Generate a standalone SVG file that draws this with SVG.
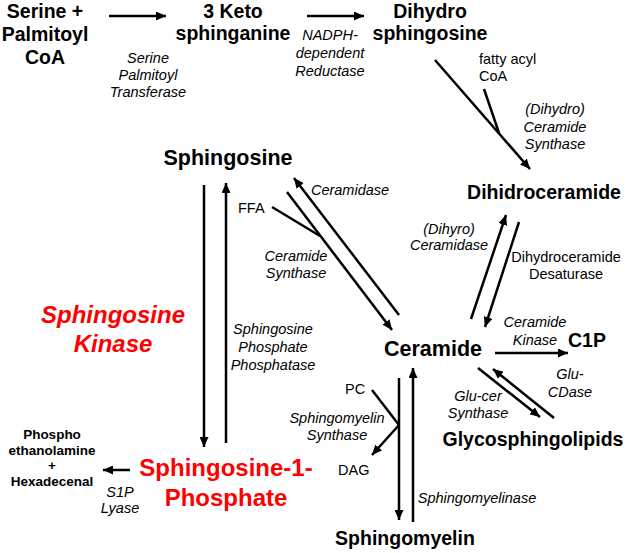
<svg xmlns="http://www.w3.org/2000/svg" width="628" height="553" viewBox="0 0 628 553">
<style>
text{font-family:"Liberation Sans",Arial,sans-serif;fill:#000}
.b{font-weight:bold;font-size:19.5px;text-anchor:middle}
.m{font-weight:bold;font-size:21.5px;text-anchor:middle}
.r{fill:#ff0000;font-weight:bold;font-size:24px;text-anchor:middle}
.i{font-style:italic;font-size:14.5px;text-anchor:middle}
.n{font-size:14.5px}
.s{font-weight:bold;font-size:13.5px;text-anchor:middle}
.c line{stroke:#000;stroke-width:2.5;fill:none}
.a{marker-end:url(#ah)}
</style>
<defs>
<marker id="ah" markerUnits="userSpaceOnUse" markerWidth="11" markerHeight="9" refX="10" refY="4.5" orient="auto">
<path d="M0,0 L10,4.5 L0,9 z" fill="#000"/>
</marker>
</defs>
<rect width="628" height="553" fill="#fff"/>
<g id="connectors" class="c">
<line class="a" x1="109" y1="16" x2="166" y2="16"/>
<line class="a" x1="307" y1="16" x2="364" y2="16"/>
<line class="a" x1="435" y1="60" x2="530" y2="169"/>
<line x1="484" y1="89" x2="499" y2="133"/>
<line class="a" x1="204" y1="185" x2="204" y2="447"/>
<line class="a" x1="226" y1="443" x2="226" y2="183"/>
<line class="a" x1="399" y1="315" x2="294" y2="178"/>
<line class="a" x1="287" y1="192" x2="392" y2="330"/>
<line x1="272" y1="207" x2="320" y2="236"/>
<line class="a" x1="471" y1="319" x2="506" y2="215"/>
<line class="a" x1="519" y1="222" x2="485" y2="327"/>
<line class="a" x1="495" y1="353" x2="568" y2="353"/>
<line class="a" x1="478" y1="368" x2="540" y2="417"/>
<line class="a" x1="554" y1="418" x2="493" y2="369"/>
<line class="a" x1="399" y1="378" x2="399" y2="520"/>
<line class="a" x1="413" y1="522" x2="413" y2="368"/>
<line x1="372" y1="390" x2="399" y2="425"/>
<line class="a" x1="399" y1="425" x2="372" y2="455"/>
<line class="a" x1="130" y1="470" x2="103" y2="470"/>
</g>
<g id="serine"><text class="b" x="45" y="18">Serine +</text><text class="b" x="45" y="41">Palmitoyl</text><text class="b" x="45" y="64">CoA</text></g>
<g id="spt"><text class="i" x="148" y="63">Serine</text><text class="i" x="148" y="80">Palmitoyl</text><text class="i" x="148" y="97">Transferase</text></g>
<g id="keto"><text class="b" x="233" y="18">3 Keto</text><text class="b" x="233" y="40">sphinganine</text></g>
<g id="nadph"><text class="i" x="330" y="40">NADPH-</text><text class="i" x="330" y="58">dependent</text><text class="i" x="330" y="76">Reductase</text></g>
<g id="dihydrosph"><text class="b" x="430" y="18">Dihydro</text><text class="b" x="430" y="40">sphingosine</text></g>
<g id="fattyacyl"><text class="n" x="479" y="64">fatty acyl</text><text class="n" x="479" y="81">CoA</text></g>
<g id="dcs"><text class="i" x="555" y="114">(Dihydro)</text><text class="i" x="555" y="132">Ceramide</text><text class="i" x="555" y="149">Synthase</text></g>
<g id="dihidroceramide"><text class="b" x="544" y="199">Dihidroceramide</text></g>
<g id="sphingosine"><text class="m" x="228" y="165">Sphingosine</text></g>
<g id="ceramidase"><text class="i" x="350" y="195">Ceramidase</text></g>
<g id="ffa"><text class="n" x="238" y="213">FFA</text></g>
<g id="cs"><text class="i" x="296" y="261">Ceramide</text><text class="i" x="296" y="278">Synthase</text></g>
<g id="dceramidase"><text class="i" x="449" y="234">(Dihyro)</text><text class="i" x="449" y="250">Ceramidase</text></g>
<g id="desat"><text class="n" x="566" y="262" text-anchor="middle">Dihydroceramide</text><text class="n" x="566" y="279" text-anchor="middle">Desaturase</text></g>
<g id="sk"><text class="r" font-style="italic" x="113" y="323">Sphingosine</text><text class="r" font-style="italic" x="113" y="352">Kinase</text></g>
<g id="spp"><text class="i" x="273" y="334">Sphingosine</text><text class="i" x="273" y="352">Phosphate</text><text class="i" x="273" y="370">Phosphatase</text></g>
<g id="ceramide"><text class="m" x="433" y="356">Ceramide</text></g>
<g id="ck"><text class="i" x="535" y="327">Ceramide</text><text class="i" x="535" y="345">Kinase</text></g>
<g id="c1p"><text class="b" x="587" y="347">C1P</text></g>
<g id="glucds"><text class="i" x="570" y="379">Glu-</text><text class="i" x="570" y="397">CDase</text></g>
<g id="glucer"><text class="i" x="478" y="401">Glu-cer</text><text class="i" x="478" y="418">Synthase</text></g>
<g id="glyco"><text class="b" x="533" y="446">Glycosphingolipids</text></g>
<g id="pc"><text class="n" x="345" y="394">PC</text></g>
<g id="sms"><text class="i" x="337" y="423">Sphingomyelin</text><text class="i" x="337" y="440">Synthase</text></g>
<g id="dag"><text class="n" x="338" y="475">DAG</text></g>
<g id="smase"><text class="i" x="477" y="503">Sphingomyelinase</text></g>
<g id="sphingomyelin"><text class="b" x="405" y="545">Sphingomyelin</text></g>
<g id="s1p"><text class="r" x="226" y="476">Sphingosine-1-</text><text class="r" x="226" y="506">Phosphate</text></g>
<g id="lyase"><text class="i" x="120" y="497">S1P</text><text class="i" x="120" y="513">Lyase</text></g>
<g id="products"><text class="s" x="52" y="439">Phospho</text><text class="s" x="52" y="454.5">ethanolamine</text><text class="s" x="52" y="470">+</text><text class="s" x="52" y="485.5">Hexadecenal</text></g>
</svg>
